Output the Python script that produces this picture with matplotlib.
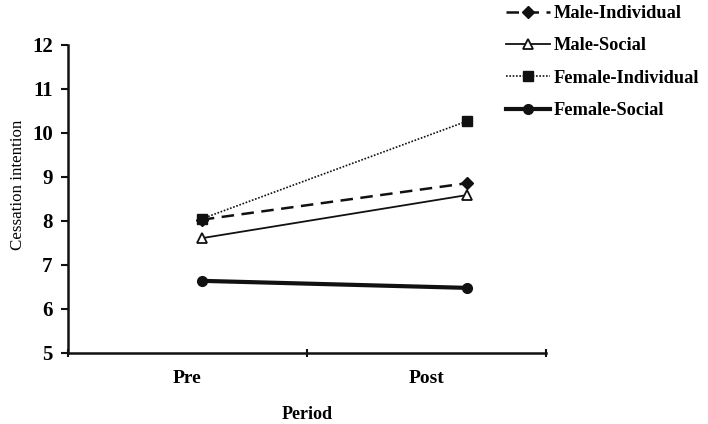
import matplotlib
matplotlib.use("Agg")
import matplotlib.pyplot as plt

periods = ["Pre", "Post"]
y_ticks = [5, 6, 7, 8, 9, 10, 11, 12]
series_names = ["Male-Individual", "Male-Social", "Female-Individual", "Female-Social"]
male_individual = [8.03, 8.86]
male_social = [7.61, 8.59]
female_individual = [8.05, 10.27]
female_social = [6.64, 6.48]

plt.rcParams['font.family'] = ['Liberation Serif', 'DejaVu Serif']

fig = plt.figure(figsize=(7.08, 4.24), dpi=100)
ax = fig.add_axes([68/708, 1-353/424, (546-68)/708, (353-45)/424])

cat_pos = [0.5, 1.5]
mark_pos = [0.56, 1.67]
c = '#111111'

styles = [
    dict(ls=(0, (5, 3)), lw=1.8, marker='D', ms=6, mfc=c, mec=c),
    dict(ls='-', lw=1.3, marker='^', ms=6.5, mfc='white', mec=c, mew=1.3),
    dict(ls=(0, (1, 1)), lw=1.2, marker='s', ms=7, mfc=c, mec=c),
    dict(ls='-', lw=3.0, marker='o', ms=7, mfc=c, mec=c),
]
data = [male_individual, male_social, female_individual, female_social]
handles = []
for name, vals, st in zip(series_names, data, styles):
    h, = ax.plot(mark_pos, vals, color=c, label=name, **st)
    handles.append(h)

ax.set_xlim(0, 2)
ax.set_ylim(5, 12)
ax.set_yticks(y_ticks)
ax.set_yticklabels([str(v) for v in y_ticks], fontsize=15, fontweight='bold')
ax.set_xticks([0, 1, 2])
ax.set_xticklabels([])
ax.set_xticks(cat_pos, minor=True)
ax.set_xticklabels(periods, minor=True, fontsize=14, fontweight='bold')
ax.tick_params(axis='x', which='minor', length=0, pad=12)
ax.tick_params(axis='x', which='major', length=6, direction='inout', width=1.5, color=c)
ax.tick_params(axis='y', length=5, direction='out', width=1.5, color=c, pad=6)
for s in ['top', 'right']:
    ax.spines[s].set_visible(False)
for s in ['left', 'bottom']:
    ax.spines[s].set_linewidth(1.8)
    ax.spines[s].set_color(c)

ax.set_ylabel("Cessation intention", fontsize=12.2)
ax.yaxis.set_label_coords(-0.088, 0.545)
ax.set_xlabel("Period", fontsize=13, fontweight='bold', labelpad=14)

leg = fig.legend(handles=handles, loc='upper left', bbox_to_anchor=(506/708, 1.0 - 5/424),
                 frameon=False, fontsize=13.2, handlelength=2.4, handletextpad=0.2,
                 labelspacing=0.84, borderaxespad=0.0, borderpad=0.0)
for t in leg.get_texts():
    t.set_fontweight('bold')

fig.savefig("out.png", dpi=100)
